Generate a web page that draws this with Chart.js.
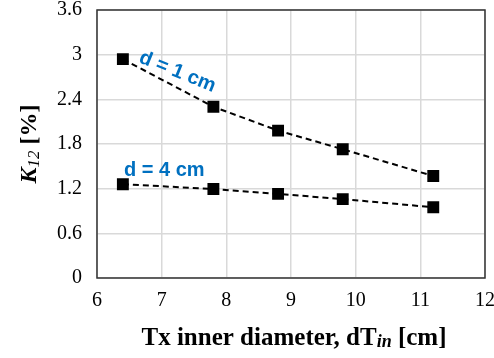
<!DOCTYPE html>
<html><head><meta charset="utf-8">
<script src="https://cdn.jsdelivr.net/npm/chart.js@4"></script>
<style>html,body{margin:0;padding:0;background:#fff}#wrap{width:494px;height:358px}</style>
</head><body><div id="wrap"><canvas id="c" width="494" height="358"></canvas></div>
<script>
const xValues = [6.4, 7.8, 8.8, 9.8, 11.2];
const seriesD1 = [2.94, 2.30, 1.98, 1.73, 1.37];
const seriesD4 = [1.26, 1.195, 1.13, 1.06, 0.95];
const yTicks = [0, 0.6, 1.2, 1.8, 2.4, 3, 3.6];
const xTicks = [6, 7, 8, 9, 10, 11, 12];
const labelD1 = "d = 1 cm";
const labelD4 = "d = 4 cm";

const toPts = ys => xValues.map((x, i) => ({x, y: ys[i]}));
const SERIF = '"Liberation Serif", "Times New Roman", serif';

const framePlugin = {
  id: 'frame',
  afterDraw(chart) {
    const {ctx, chartArea: a} = chart;
    ctx.save();
    ctx.strokeStyle = '#333';
    ctx.lineWidth = 1.5;
    ctx.strokeRect(a.left, a.top, a.right - a.left, a.bottom - a.top);
    // annotations
    ctx.fillStyle = '#0070C0';
    ctx.font = 'bold 20px "Liberation Sans", Arial, sans-serif';
    ctx.textBaseline = 'alphabetic';
    ctx.save();
    ctx.translate(138, 62);
    ctx.rotate(22 * Math.PI / 180);
    ctx.fillText(labelD1, 0, 0);
    ctx.restore();
    ctx.fillText(labelD4, 124, 176);
    // x title
    ctx.fillStyle = '#000';
    const baseY = 345;
    const big = 'bold 25px ' + SERIF, sub = 'bold italic 18px ' + SERIF;
    const p1 = 'Tx inner diameter, dT', p2 = 'in', p3 = ' [cm]';
    ctx.font = big;
    const w1 = ctx.measureText(p1).width, w3 = ctx.measureText(p3).width;
    ctx.font = sub;
    const w2 = ctx.measureText(p2).width;
    let x0 = (a.left + a.right) / 2 + 3 - (w1 + w2 + w3) / 2;
    ctx.font = big; ctx.fillText(p1, x0, baseY);
    ctx.font = sub; ctx.fillText(p2, x0 + w1, baseY + 2);
    ctx.font = big; ctx.fillText(p3, x0 + w1 + w2, baseY);
    // y title
    ctx.save();
    ctx.translate(36, (a.top + a.bottom) / 2);
    ctx.rotate(-Math.PI / 2);
    const q1 = 'K', q2 = '12', q3 = ' [%]';
    const kf = 'bold italic 24px ' + SERIF, sf = 'italic 17px ' + SERIF, bf = 'bold 24px ' + SERIF;
    ctx.font = kf; const v1 = ctx.measureText(q1).width;
    ctx.font = sf; const v2 = ctx.measureText(q2).width;
    ctx.font = bf; const v3 = ctx.measureText(q3).width;
    let s0 = -(v1 + v2 + v3) / 2;
    ctx.font = kf; ctx.fillText(q1, s0, 0);
    ctx.font = sf; ctx.fillText(q2, s0 + v1, 3);
    ctx.font = bf; ctx.fillText(q3, s0 + v1 + v2, 0);
    ctx.restore();
    ctx.restore();
  }
};

const ds = (data) => ({
  data, borderColor: '#000', backgroundColor: '#000', borderWidth: 2,
  borderDash: [6, 4], pointStyle: 'rect', pointRadius: 7, pointHoverRadius: 7,
  tension: 0, showLine: true
});

new Chart(document.getElementById('c'), {
  type: 'scatter',
  data: { datasets: [ds(toPts(seriesD1)), ds(toPts(seriesD4))] },
  options: {
    responsive: false, animation: false, devicePixelRatio: 1,
    layout: { padding: { top: 10, right: 7, left: 0, bottom: 0 } },
    plugins: { legend: { display: false }, tooltip: { enabled: false } },
    scales: {
      x: {
        type: 'linear', min: 6, max: 12,
        afterBuildTicks: s => { s.ticks = xTicks.map(v => ({value: v})); },
        afterFit: s => { s.height = 80; s.paddingLeft = 0; s.paddingRight = 0; },
        grid: { color: '#d9d9d9', lineWidth: 1.5, drawTicks: false },
        border: { display: false },
        ticks: { color: '#000', padding: 11, maxRotation: 0, font: { family: SERIF, size: 20 } }
      },
      y: {
        type: 'linear', min: 0, max: 3.6,
        afterBuildTicks: s => { s.ticks = yTicks.map(v => ({value: v})); },
        afterFit: s => { s.width = 97; s.paddingTop = 0; s.paddingBottom = 0; },
        grid: { color: '#d9d9d9', lineWidth: 1.5, drawTicks: false },
        border: { display: false },
        ticks: { color: '#000', padding: 15, font: { family: SERIF, size: 20 },
          callback: v => String(v) }
      }
    }
  },
  plugins: [framePlugin]
});
</script></body></html>
